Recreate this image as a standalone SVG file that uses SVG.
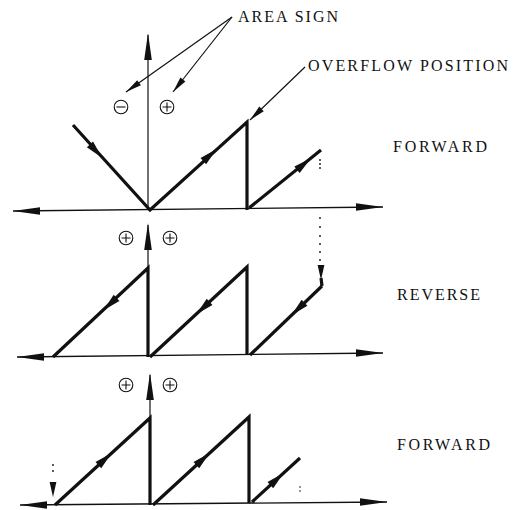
<svg xmlns="http://www.w3.org/2000/svg" xmlns:xlink="http://www.w3.org/1999/xlink" width="513" height="510" viewBox="0 0 513 510">
  <style>
    .lbl { font-family: "Liberation Serif", "DejaVu Serif", "Times New Roman", serif; font-size: 16px; fill: #111; }
    .axis { stroke: #111; stroke-width: 1.4; fill: none; }
    .thin { stroke: #111; stroke-width: 1.2; fill: none; }
    .trace { stroke: #111; stroke-width: 3.2; fill: none; stroke-linejoin: miter; stroke-linecap: butt; }
    .lead { stroke: #111; stroke-width: 1.2; fill: none; }
    .sign { stroke: #111; stroke-width: 1.1; fill: none; }
    .dot { fill: #111; }
    .head { fill: #111; }
  </style>
  <defs>
    <!-- long narrow head for the axes, tip at origin pointing +x -->
    <path id="axhead" d="M0,0 L-27,-3.8 L-27,3.8 Z"/>
    <!-- head placed part-way along a trace, centred at origin -->
    <path id="midhead" d="M9,0 L-9,-4.2 L-9,4.2 Z"/>
    <!-- head for leader lines, tip at origin -->
    <path id="leadhead" d="M0,0 L-16,-3.2 L-16,3.2 Z"/>
    <!-- small head on dotted markers, tip at origin -->
    <path id="dothead" d="M0,0 L-15,-3.4 L-15,3.4 Z"/>
    <g id="plus">
      <circle class="sign" r="6.8"/>
      <path class="sign" d="M-4.5,0 H4.5 M0,-4.5 V4.5"/>
    </g>
    <g id="minus">
      <circle class="sign" r="6.8"/>
      <path class="sign" d="M-4.5,0 H4.5"/>
    </g>
  </defs>

  <!-- labels -->
  <g id="labels" font-family="Liberation Serif, DejaVu Serif, serif">
    <text class="lbl" x="238" y="22" textLength="100" lengthAdjust="spacing">AREA SIGN</text>
    <text class="lbl" x="308" y="71" textLength="200" lengthAdjust="spacing">OVERFLOW POSITION</text>
    <text class="lbl" x="393" y="152" textLength="94" lengthAdjust="spacing">FORWARD</text>
    <text class="lbl" x="397" y="300" textLength="83" lengthAdjust="spacing">REVERSE</text>
    <text class="lbl" x="397" y="450" textLength="93" lengthAdjust="spacing">FORWARD</text>
  </g>

  <!-- leader lines to the labels -->
  <g id="leaders">
    <line class="lead" x1="232" y1="17" x2="126" y2="92"/>
    <use href="#leadhead" class="head" transform="translate(126,92) rotate(144.7)"/>
    <line class="lead" x1="232" y1="17" x2="173" y2="92"/>
    <use href="#leadhead" class="head" transform="translate(173,92) rotate(128.2)"/>
    <line class="lead" x1="305" y1="67" x2="250" y2="120"/>
    <use href="#leadhead" class="head" transform="translate(250,120) rotate(136.1)"/>
  </g>

  <!-- area sign symbols -->
  <g id="signs">
    <use href="#minus" transform="translate(121,107)"/>
    <use href="#plus" transform="translate(167,107)"/>
    <use href="#plus" transform="translate(126,238)"/>
    <use href="#plus" transform="translate(170,238)"/>
    <use href="#plus" transform="translate(126,385)"/>
    <use href="#plus" transform="translate(170,385)"/>
  </g>

  <!-- panel 1: forward -->
  <g id="panel1">
    <line class="axis" x1="13" y1="211" x2="383" y2="207"/>
    <use href="#axhead" class="head" transform="translate(13,211) rotate(180)"/>
    <use href="#axhead" class="head" transform="translate(383,207)"/>
    <line class="thin" x1="148" y1="35" x2="148" y2="210"/>
    <use href="#axhead" class="head" transform="translate(148,33) rotate(-90)"/>
    <polyline class="trace" points="73,125 150,210 247,122 247,210"/>
    <line class="trace" x1="249" y1="208" x2="321" y2="150"/>
    <use href="#midhead" class="head" transform="translate(96,151) rotate(47.8)"/>
    <use href="#midhead" class="head" transform="translate(210,155) rotate(-42.2)"/>
    <use href="#midhead" class="head" transform="translate(304,164) rotate(-38.9)"/>
    <circle class="dot" cx="320" cy="160" r="0.9"/>
    <circle class="dot" cx="320" cy="164" r="0.9"/>
    <circle class="dot" cx="320" cy="168" r="0.9"/>
  </g>

  <!-- panel 2: reverse -->
  <g id="panel2">
    <line class="axis" x1="17" y1="357" x2="383" y2="353"/>
    <use href="#axhead" class="head" transform="translate(17,357) rotate(180)"/>
    <use href="#axhead" class="head" transform="translate(383,353)"/>
    <line class="thin" x1="148" y1="225" x2="148" y2="268"/>
    <use href="#axhead" class="head" transform="translate(148,223) rotate(-90)"/>
    <polyline class="trace" points="53,357 148,268 148,357"/>
    <polyline class="trace" points="150,357 247,267 247,355"/>
    <line class="trace" x1="250" y1="355" x2="322" y2="286"/>
    <line class="trace" x1="321" y1="278" x2="322" y2="286"/>
    <use href="#midhead" class="head" transform="translate(110,304) rotate(136.9)"/>
    <use href="#midhead" class="head" transform="translate(203,308) rotate(137.1)"/>
    <use href="#midhead" class="head" transform="translate(298,309) rotate(136.2)"/>
    <circle class="dot" cx="320" cy="218" r="0.9"/>
    <circle class="dot" cx="320" cy="227" r="0.9"/>
    <circle class="dot" cx="320" cy="236" r="0.9"/>
    <circle class="dot" cx="320" cy="244" r="0.9"/>
    <circle class="dot" cx="320" cy="252" r="0.9"/>
    <circle class="dot" cx="320" cy="260" r="0.9"/>
    <use href="#dothead" class="head" transform="translate(321,280) rotate(90)"/>
  </g>

  <!-- panel 3: forward -->
  <g id="panel3">
    <line class="axis" x1="20" y1="505" x2="387" y2="502"/>
    <use href="#axhead" class="head" transform="translate(20,505) rotate(180)"/>
    <use href="#axhead" class="head" transform="translate(387,502)"/>
    <line class="thin" x1="150" y1="375" x2="150" y2="418"/>
    <use href="#axhead" class="head" transform="translate(150,373) rotate(-90)"/>
    <polyline class="trace" points="55,505 150,418 150,505"/>
    <polyline class="trace" points="153,505 249,417 249,503"/>
    <line class="trace" x1="252" y1="502" x2="300" y2="458"/>
    <use href="#midhead" class="head" transform="translate(105,459) rotate(-42.5)"/>
    <use href="#midhead" class="head" transform="translate(203,459) rotate(-42.5)"/>
    <use href="#midhead" class="head" transform="translate(277,479) rotate(-42.5)"/>
    <circle class="dot" cx="300" cy="487" r="0.8"/>
    <circle class="dot" cx="300" cy="491" r="0.8"/>
    <circle class="dot" cx="53" cy="465" r="0.9"/>
    <circle class="dot" cx="53" cy="471" r="0.9"/>
    <use href="#dothead" class="head" transform="translate(53,497) rotate(90)"/>
  </g>
</svg>
